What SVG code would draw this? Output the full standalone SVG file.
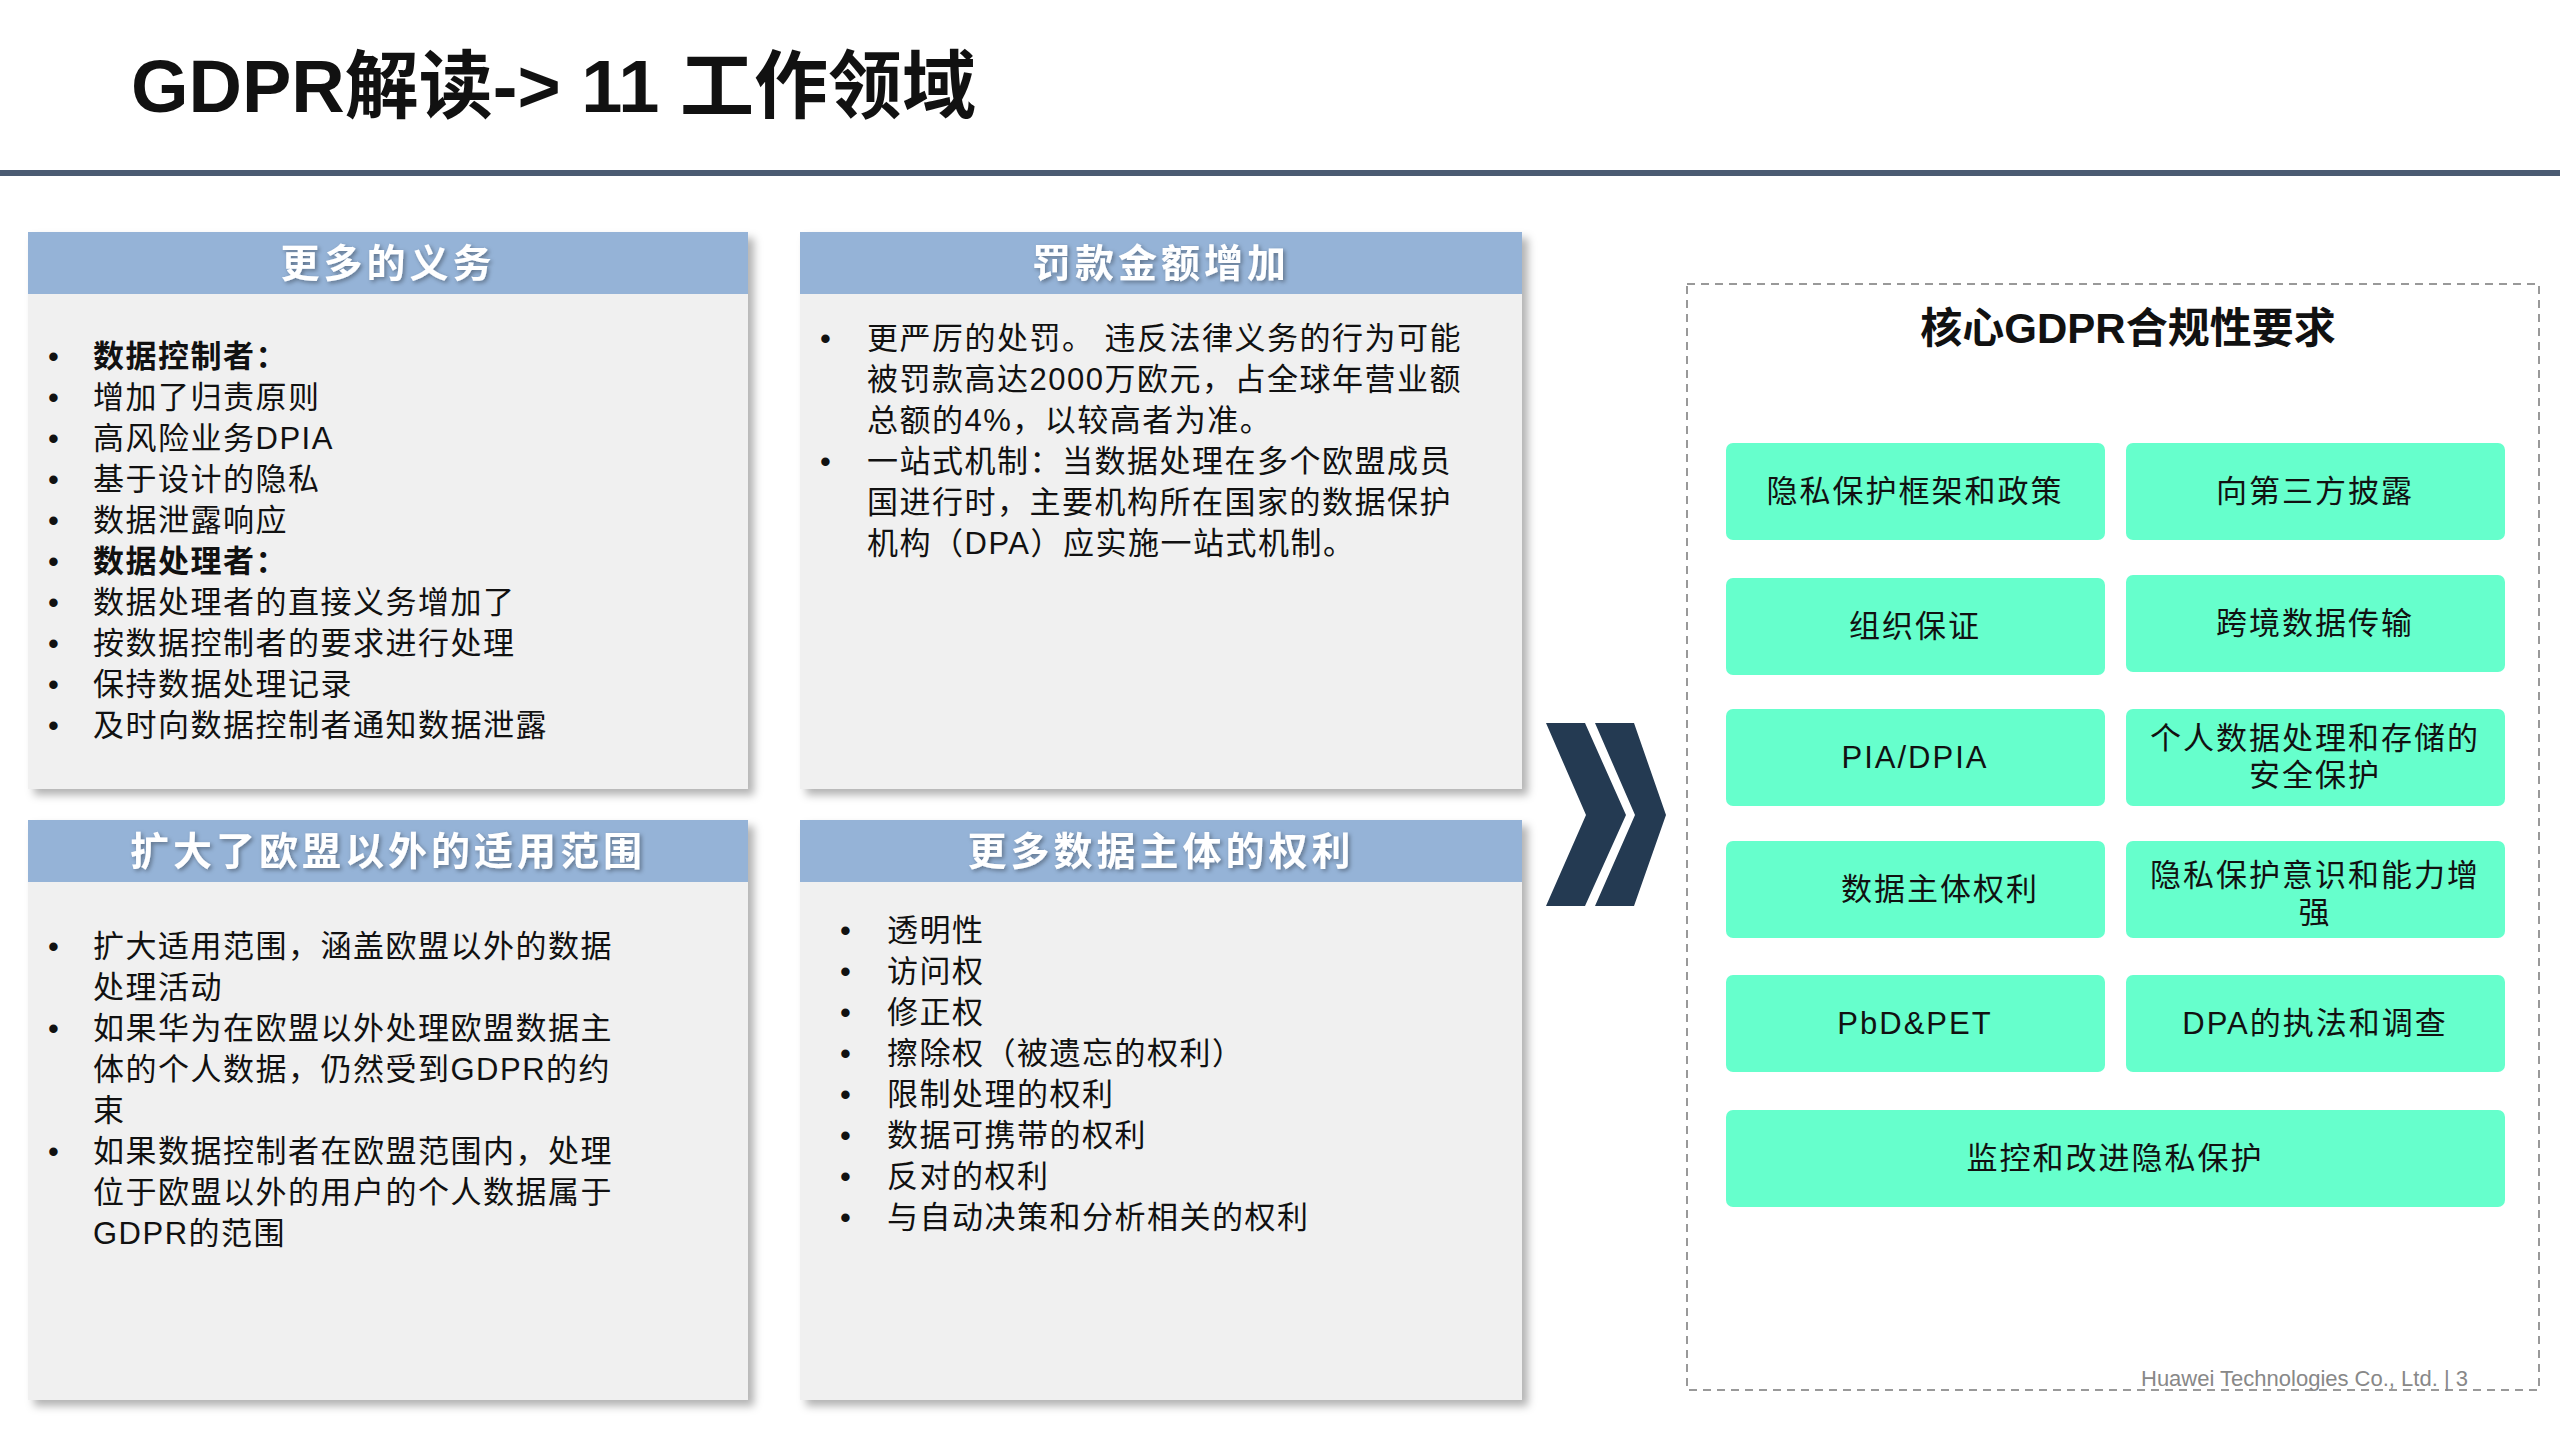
<svg xmlns="http://www.w3.org/2000/svg" width="2560" height="1440" viewBox="0 0 2560 1440">
<defs>
<filter id="sh" x="-5%" y="-5%" width="112%" height="112%"><feDropShadow dx="6" dy="6" stdDeviation="4" flood-color="#000" flood-opacity="0.3"/></filter>
<filter id="tsh"><feDropShadow dx="2" dy="2" stdDeviation="2" flood-color="#000" flood-opacity="0.35"/></filter>
<style>
text{font-family:"Liberation Sans","Noto Sans CJK SC",sans-serif;}
.body{fill:#f0f0f0;}
.hdr{fill:#95b3d7;}
.ht{fill:#fff;font-size:39px;font-weight:bold;text-anchor:middle;letter-spacing:4px;}
.t{fill:#111;font-size:31px;letter-spacing:1.5px;}
.b{font-weight:bold;}
.g{fill:#66ffcc;}
.gt{fill:#111;font-size:31px;text-anchor:middle;letter-spacing:2px;}
</style>
</defs>
<rect width="2560" height="1440" fill="#fff"/>
<text x="131" y="112" font-size="74" font-weight="bold" fill="#111">GDPR解读-&gt; 11 工作领域</text>
<rect x="0" y="170" width="2560" height="6" fill="#4b5b72"/>

<g id="panel1">
<rect class="body" x="28" y="232" width="720" height="557" filter="url(#sh)"/>
<rect class="hdr" x="28" y="232" width="720" height="62"/>
<text class="ht" x="388" y="277" filter="url(#tsh)">更多的义务</text>
<g class="t">
<text x="48" y="367">•</text><text x="93" y="367" class="b">数据控制者：</text>
<text x="48" y="408">•</text><text x="93" y="408">增加了归责原则</text>
<text x="48" y="449">•</text><text x="93" y="449">高风险业务DPIA</text>
<text x="48" y="490">•</text><text x="93" y="490">基于设计的隐私</text>
<text x="48" y="531">•</text><text x="93" y="531">数据泄露响应</text>
<text x="48" y="572">•</text><text x="93" y="572" class="b">数据处理者：</text>
<text x="48" y="613">•</text><text x="93" y="613">数据处理者的直接义务增加了</text>
<text x="48" y="654">•</text><text x="93" y="654">按数据控制者的要求进行处理</text>
<text x="48" y="695">•</text><text x="93" y="695">保持数据处理记录</text>
<text x="48" y="736">•</text><text x="93" y="736">及时向数据控制者通知数据泄露</text>
</g>
</g>

<g id="panel2">
<rect class="body" x="800" y="232" width="722" height="557" filter="url(#sh)"/>
<rect class="hdr" x="800" y="232" width="722" height="62"/>
<text class="ht" x="1161" y="277" filter="url(#tsh)">罚款金额增加</text>
<g class="t">
<text x="820" y="349">•</text><text x="867" y="349">更严厉的处罚。 违反法律义务的行为可能</text>
<text x="867" y="390">被罚款高达2000万欧元，占全球年营业额</text>
<text x="867" y="431">总额的4%，以较高者为准。</text>
<text x="820" y="472">•</text><text x="867" y="472">一站式机制：当数据处理在多个欧盟成员</text>
<text x="867" y="513">国进行时，主要机构所在国家的数据保护</text>
<text x="867" y="554">机构（DPA）应实施一站式机制。</text>
</g>
</g>

<g id="panel3">
<rect class="body" x="28" y="820" width="720" height="580" filter="url(#sh)"/>
<rect class="hdr" x="28" y="820" width="720" height="62"/>
<text class="ht" x="388" y="865" filter="url(#tsh)">扩大了欧盟以外的适用范围</text>
<g class="t">
<text x="48" y="957">•</text><text x="93" y="957">扩大适用范围，涵盖欧盟以外的数据</text>
<text x="93" y="998">处理活动</text>
<text x="48" y="1039">•</text><text x="93" y="1039">如果华为在欧盟以外处理欧盟数据主</text>
<text x="93" y="1080">体的个人数据，仍然受到GDPR的约</text>
<text x="93" y="1121">束</text>
<text x="48" y="1162">•</text><text x="93" y="1162">如果数据控制者在欧盟范围内，处理</text>
<text x="93" y="1203">位于欧盟以外的用户的个人数据属于</text>
<text x="93" y="1244">GDPR的范围</text>
</g>
</g>

<g id="panel4">
<rect class="body" x="800" y="820" width="722" height="580" filter="url(#sh)"/>
<rect class="hdr" x="800" y="820" width="722" height="62"/>
<text class="ht" x="1161" y="865" filter="url(#tsh)">更多数据主体的权利</text>
<g class="t">
<text x="840" y="941">•</text><text x="887" y="941">透明性</text>
<text x="840" y="982">•</text><text x="887" y="982">访问权</text>
<text x="840" y="1023">•</text><text x="887" y="1023">修正权</text>
<text x="840" y="1064">•</text><text x="887" y="1064">擦除权（被遗忘的权利）</text>
<text x="840" y="1105">•</text><text x="887" y="1105">限制处理的权利</text>
<text x="840" y="1146">•</text><text x="887" y="1146">数据可携带的权利</text>
<text x="840" y="1187">•</text><text x="887" y="1187">反对的权利</text>
<text x="840" y="1228">•</text><text x="887" y="1228">与自动决策和分析相关的权利</text>
</g>
</g>

<g id="chevron" fill="#243a52">
<polygon points="1546,723 1585,723 1626,815 1585,906 1546,906 1586,815"/>
<polygon points="1595,723 1634,723 1666,815 1634,906 1595,906 1635,815"/>
</g>

<g id="core">
<rect x="1687" y="284" width="852" height="1106" fill="none" stroke="#999" stroke-width="2" stroke-dasharray="8,6"/>
<text x="2128" y="343" font-size="42" font-weight="bold" text-anchor="middle" fill="#111">核心GDPR合规性要求</text>
</g>
<g id="n1"><rect class="g" x="1726" y="443" width="379" height="97" rx="7"/><text class="gt" x="1915" y="502">隐私保护框架和政策</text></g>
<g id="n2"><rect class="g" x="2126" y="443" width="379" height="97" rx="7"/><text class="gt" x="2315" y="502">向第三方披露</text></g>
<g id="n3"><rect class="g" x="1726" y="578" width="379" height="97" rx="7"/><text class="gt" x="1915" y="637">组织保证</text></g>
<g id="n4"><rect class="g" x="2126" y="575" width="379" height="97" rx="7"/><text class="gt" x="2315" y="634">跨境数据传输</text></g>
<g id="n5"><rect class="g" x="1726" y="709" width="379" height="97" rx="7"/><text class="gt" x="1915" y="768">PIA/DPIA</text></g>
<g id="n6"><rect class="g" x="2126" y="709" width="379" height="97" rx="7"/><text class="gt" x="2315" y="749">个人数据处理和存储的</text><text class="gt" x="2315" y="786">安全保护</text></g>
<g id="n7"><rect class="g" x="1726" y="841" width="379" height="97" rx="7"/><text class="gt" x="1940" y="900">数据主体权利</text></g>
<g id="n8"><rect class="g" x="2126" y="841" width="379" height="97" rx="7"/><text class="gt" x="2315" y="886">隐私保护意识和能力增</text><text class="gt" x="2315" y="923">强</text></g>
<g id="n9"><rect class="g" x="1726" y="975" width="379" height="97" rx="7"/><text class="gt" x="1915" y="1034">PbD&amp;PET</text></g>
<g id="n10"><rect class="g" x="2126" y="975" width="379" height="97" rx="7"/><text class="gt" x="2315" y="1034">DPA的执法和调查</text></g>
<g id="n11"><rect class="g" x="1726" y="1110" width="779" height="97" rx="7"/><text class="gt" x="2115" y="1169">监控和改进隐私保护</text></g>
<text x="2141" y="1386" font-size="22" fill="#888">Huawei Technologies Co., Ltd.  | 3</text>
</svg>
